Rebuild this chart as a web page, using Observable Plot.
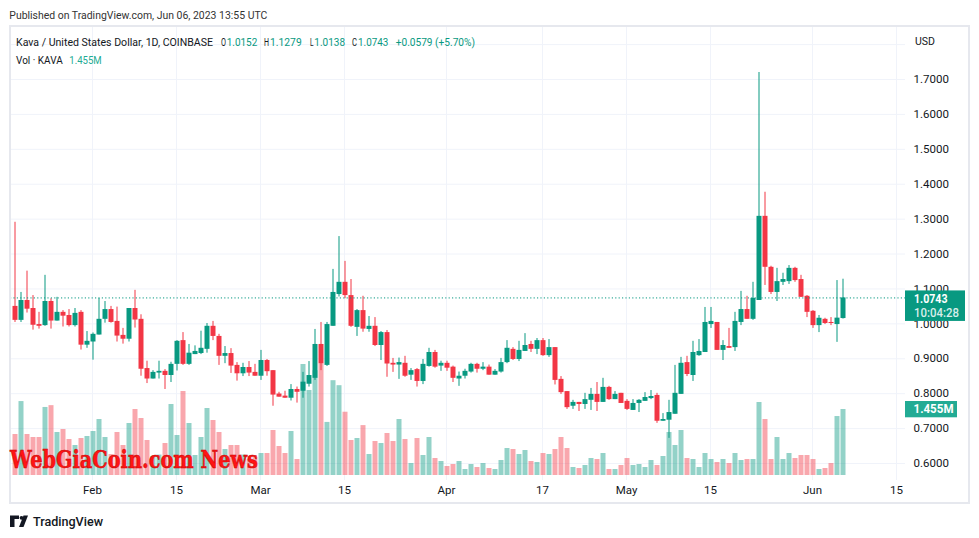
<!DOCTYPE html>
<html><head><meta charset="utf-8">
<script src="https://cdn.jsdelivr.net/npm/d3@7"></script>
<script src="https://cdn.jsdelivr.net/npm/@observablehq/plot@0.6"></script>
<style>
body{margin:0;background:#fff;}
#wrap{position:relative;width:979px;height:538px;overflow:hidden;background:#fff;font-family:Roboto, sans-serif;}
#wrap svg{position:absolute;left:0;top:0;}
</style></head><body><div id="wrap"></div>
<script>
// ---- data (KAVA/USD, 1D, Jan 19 – Jun 6 2023) ----
const firstDay = "2023-01-19";
const lastDay = "2023-06-06";
const open = [1.050,1.010,1.067,1.044,0.998,0.995,1.064,1.008,1.033,1.024,
0.995,1.033,0.939,0.948,0.968,1.013,1.041,1.007,0.967,0.956,
1.044,1.013,0.872,0.842,0.859,0.864,0.852,0.884,0.952,0.884,
0.912,0.915,0.927,0.993,0.964,0.907,0.915,0.881,0.857,0.875,
0.861,0.850,0.895,0.866,0.799,0.793,0.787,0.812,0.807,0.827,
0.844,0.941,0.881,0.993,1.084,1.119,1.081,0.990,1.038,0.984,
0.993,0.938,0.975,0.887,0.882,0.887,0.853,0.869,0.835,0.878,
0.918,0.879,0.887,0.876,0.842,0.850,0.862,0.884,0.870,0.876,
0.853,0.862,0.889,0.927,0.898,0.921,0.941,0.927,0.952,0.909,
0.932,0.841,0.806,0.764,0.775,0.769,0.781,0.798,0.775,0.818,
0.783,0.801,0.778,0.752,0.772,0.778,0.786,0.795,0.721,0.724,
0.741,0.798,0.889,0.852,0.909,0.918,0.998,1.004,0.924,0.935,
0.932,1.004,1.041,1.013,1.067,1.308,1.162,1.090,1.119,1.121,
1.159,1.127,1.079,1.036,0.995,1.013,1.004,0.998,1.0152];
const high = [1.291,1.090,1.151,1.081,1.033,1.139,1.072,1.076,1.038,1.041,
1.044,1.038,0.978,0.974,1.073,1.064,1.050,1.048,0.987,1.044,
1.096,1.026,0.893,0.866,0.893,0.869,0.890,0.952,0.975,0.941,
0.937,0.979,1.001,1.007,0.970,0.935,0.929,0.889,0.887,0.892,
0.884,0.924,0.898,0.866,0.804,0.807,0.826,0.819,0.861,0.892,
0.984,1.004,1.004,1.156,1.250,1.179,1.127,1.041,1.079,1.021,
1.018,0.978,0.981,0.901,0.902,0.907,0.872,0.872,0.898,0.930,
0.924,0.893,0.893,0.879,0.862,0.870,0.887,0.887,0.889,0.882,
0.869,0.901,0.952,0.932,0.950,0.972,0.950,0.958,0.958,0.955,
0.932,0.849,0.806,0.781,0.775,0.801,0.815,0.832,0.844,0.821,
0.806,0.801,0.783,0.783,0.783,0.803,0.809,0.801,0.743,0.781,
0.881,0.904,0.907,0.950,0.955,1.047,1.047,1.004,0.952,0.987,
1.033,1.093,1.079,1.119,1.720,1.377,1.165,1.159,1.145,1.167,
1.162,1.139,1.081,1.038,1.024,1.016,1.018,1.124,1.1279];
const low = [1.004,1.004,1.031,0.982,0.985,0.993,0.985,1.008,0.991,0.991,
0.991,0.925,0.930,0.896,0.968,1.002,1.002,0.948,0.942,0.948,
0.988,0.850,0.829,0.842,0.842,0.812,0.832,0.865,0.881,0.881,
0.912,0.912,0.916,0.952,0.881,0.886,0.858,0.836,0.849,0.849,
0.850,0.838,0.850,0.764,0.790,0.787,0.779,0.773,0.787,0.819,
0.838,0.866,0.878,0.993,1.077,1.072,0.990,0.964,0.976,0.976,
0.935,0.895,0.847,0.861,0.841,0.847,0.838,0.819,0.826,0.876,
0.873,0.864,0.864,0.832,0.821,0.842,0.859,0.859,0.866,0.853,
0.853,0.859,0.886,0.895,0.892,0.921,0.918,0.912,0.907,0.904,
0.825,0.798,0.755,0.755,0.749,0.755,0.752,0.749,0.775,0.781,
0.783,0.772,0.752,0.752,0.746,0.778,0.783,0.715,0.721,0.672,
0.741,0.798,0.849,0.835,0.907,0.918,0.987,0.924,0.895,0.930,
0.921,0.995,1.013,1.010,1.067,1.110,1.084,1.064,1.110,1.113,
1.119,1.076,1.018,0.987,0.975,0.998,0.995,0.947,1.0138];
const close = [1.010,1.067,1.042,0.996,0.993,1.064,1.008,1.033,1.022,0.995,
1.030,0.939,0.950,0.970,1.013,1.041,1.004,0.965,0.956,1.044,
1.011,0.870,0.842,0.861,0.864,0.852,0.884,0.950,0.884,0.916,
0.921,0.930,0.993,0.964,0.907,0.915,0.879,0.857,0.875,0.859,
0.850,0.895,0.863,0.796,0.790,0.787,0.812,0.804,0.833,0.852,
0.941,0.886,0.998,1.090,1.119,1.081,0.993,1.038,0.985,0.993,
0.938,0.975,0.885,0.882,0.889,0.850,0.866,0.835,0.884,0.918,
0.876,0.887,0.873,0.844,0.850,0.864,0.884,0.870,0.876,0.853,
0.864,0.889,0.930,0.898,0.924,0.938,0.927,0.952,0.909,0.932,
0.838,0.803,0.760,0.775,0.769,0.783,0.798,0.775,0.818,0.783,
0.798,0.772,0.755,0.772,0.781,0.789,0.792,0.721,0.726,0.746,
0.801,0.887,0.855,0.918,0.921,1.004,1.007,0.924,0.938,0.930,
1.007,1.041,1.013,1.073,1.308,1.162,1.090,1.121,1.127,1.159,
1.124,1.076,1.033,0.995,1.016,1.001,1.001,1.0164,1.0743];
// volume in millions of KAVA
const volume = [0.904,1.63,0.904,0.838,0.838,1.50,1.54,0.948,1.014,0.794,
0.661,0.816,0.860,0.970,1.235,0.838,0.463,0.948,0.661,1.146,
1.455,1.257,0.772,0.42,0.45,0.705,1.565,0.882,1.852,1.146,
0.441,0.838,1.477,1.213,0.948,0.573,0.661,0.661,0.45,0.35,
0.40,0.485,0.485,0.992,0.639,0.485,0.970,0.353,2.447,1.874,
2.31,2.47,1.17,2.09,1.98,1.395,0.772,0.816,1.10,0.463,
0.750,0.705,0.926,0.750,1.235,0.794,0.265,0.816,0.441,0.838,
0.375,0.309,0.198,0.243,0.309,0.132,0.243,0.176,0.265,0.154,
0.132,0.331,0.595,0.573,0.463,0.551,0.309,0.287,0.485,0.463,
0.573,0.838,0.595,0.176,0.154,0.220,0.375,0.353,0.485,0.132,
0.132,0.220,0.375,0.220,0.243,0.176,0.331,0.220,0.419,0.948,
0.661,0.992,0.375,0.353,0.176,0.485,0.353,0.287,0.353,0.265,
0.485,0.331,0.353,0.353,1.609,1.235,0.353,0.838,0.353,0.485,
0.375,0.441,0.441,0.353,0.132,0.154,0.265,1.30,1.455];
const xTickDates = ["2023-02-01","2023-02-15","2023-03-01","2023-03-15","2023-04-01","2023-04-17","2023-05-01","2023-05-15","2023-06-01","2023-06-15"];
const xTickLabels = ["Feb","15","Mar","15","Apr","17","May","15","Jun","15"];
const yTicks = [0.6,0.7,0.8,0.9,1.0,1.1,1.2,1.3,1.4,1.5,1.6,1.7];
const yGrid = [0.6,0.7,0.8,0.9,1.0,1.1,1.2,1.3,1.4,1.5,1.6,1.7,1.8];

// ---- build ----
const GREEN = "#089981", RED = "#f23645", GRID = "#f0f3fa", TXT = "#131722";
const parse = d3.utcParse("%Y-%m-%d");
const dates = d3.utcDay.range(parse(firstDay), d3.utcDay.offset(parse(lastDay), 1));
const candles = dates.map((d, i) => ({date: d, o: open[i], h: high[i], l: low[i], c: close[i], v: volume[i], up: close[i] >= open[i]}));
const upC = candles.filter(d => d.up), dnC = candles.filter(d => !d.up);
const tickDates = xTickDates.map(parse);
const labelMap = new Map(tickDates.map((d, i) => [+d, xTickLabels[i]]));

const xOpt = {type: "utc", domain: [parse("2023-01-18"), parse("2023-06-16")], range: [8, 902]};
const base = {width: 979, height: 538, marginLeft: 10, marginRight: 74, marginTop: 27, marginBottom: 58};
const priceY = {domain: [0.6, 1.7], range: [463, 79]};
const wrap = document.getElementById("wrap");

// layer A: grid + axes
const plotA = Plot.plot({...base,
  style: {background: "transparent", fontFamily: "Roboto, sans-serif", fontSize: "11.5px", color: TXT},
  x: {...xOpt, ticks: tickDates, tickFormat: d => labelMap.get(+d), tickSize: 0, tickPadding: 5, label: null},
  y: {...priceY, ticks: yTicks, tickFormat: d3.format(".4f"), axis: "right", tickSize: 0, tickPadding: 8, label: null},
  marks: [
    Plot.ruleY(yGrid, {stroke: GRID, strokeWidth: 1}),
    Plot.ruleX(tickDates, {stroke: GRID, strokeWidth: 1})
  ]
});
wrap.appendChild(plotA);

// layer B: volume
const plotB = Plot.plot({...base,
  style: {background: "transparent"},
  x: {...xOpt, axis: null},
  y: {domain: [0, 1.455], range: [475, 409], axis: null},
  marks: [
    Plot.ruleX(upC, {x: "date", y1: 0, y2: "v", stroke: GREEN, strokeOpacity: 0.44, strokeWidth: 5, dx: 0.5}),
    Plot.ruleX(dnC, {x: "date", y1: 0, y2: "v", stroke: RED, strokeOpacity: 0.44, strokeWidth: 5, dx: 0.5})
  ]
});
wrap.appendChild(plotB);

// layer C: candles
const last = candles[candles.length - 1];
const prev = candles[candles.length - 2];
const plotC = Plot.plot({...base,
  style: {background: "transparent"},
  x: {...xOpt, axis: null},
  y: {...priceY, axis: null},
  marks: [
    Plot.ruleX(upC, {x: "date", y1: "l", y2: "h", stroke: GREEN, strokeWidth: 1, dx: 0.5}),
    Plot.ruleX(dnC, {x: "date", y1: "l", y2: "h", stroke: RED, strokeWidth: 1, dx: 0.5}),
    Plot.ruleX(upC, {x: "date", y1: "o", y2: "c", stroke: GREEN, strokeWidth: 5, dx: 0.5}),
    Plot.ruleX(dnC, {x: "date", y1: "o", y2: "c", stroke: RED, strokeWidth: 5, dx: 0.5}),
    Plot.ruleY([last.c], {stroke: GREEN, strokeWidth: 1, strokeDasharray: "1.2,2.2"})
  ]
});
wrap.appendChild(plotC);

// price & volume labels on the axis, positioned through the scales
const sc = d3.select(plotC);
const cy = plotC.scale("y").apply(last.c);
const lab = (x, y, s, o) => sc.append("text").attr("x", x).attr("y", y).attr("text-anchor", "start")
  .attr("fill", "#fff").attr("fill-opacity", o.op || 1).attr("font-family", "Roboto, sans-serif")
  .attr("font-size", 12).attr("font-weight", o.w).attr("textLength", o.len).attr("lengthAdjust", "spacingAndGlyphs").text(s);
sc.append("rect").attr("x", 905).attr("y", cy - 7).attr("width", 60).attr("height", 30.5).attr("fill", GREEN);
lab(914, cy + 5.4, d3.format(".4f")(last.c), {w: 700, len: 33.5});
lab(914, cy + 20, "10:04:28", {w: 500, len: 45, op: 0.85});
const vy = plotB.scale("y").apply(last.v);
sc.append("rect").attr("x", 905).attr("y", vy - 8).attr("width", 52).attr("height", 16.3).attr("fill", "#22ab94");
lab(913.5, vy + 4.3, last.v.toFixed(3) + "M", {w: 700, len: 40});

// overlay: frame, header, legend, watermark, footer
const ov = d3.select(wrap).append("svg").attr("width", 979).attr("height", 538).style("font-family", "Roboto, sans-serif");
ov.append("rect").attr("x", 10).attr("y", 26).attr("width", 959).attr("height", 477)
  .attr("fill", "none").attr("stroke", "#e6e8ee").attr("stroke-width", 2);
function t(x, y, s, o = {}) {
  const e = ov.append("text").attr("x", x).attr("y", y).text(s)
    .attr("font-size", o.size || 11.5).attr("fill", o.fill || TXT).attr("font-weight", o.weight || 400);
  if (o.len) e.attr("textLength", o.len).attr("lengthAdjust", "spacingAndGlyphs");
  if (o.family) e.attr("font-family", o.family);
  return e;
}
// a legend item: dark label + coloured value in one text element
function item(x, y, letter, llen, gap, value, vlen, fill) {
  const e = ov.append("text").attr("y", y).attr("font-size", 11.5);
  e.append("tspan").attr("x", x).attr("fill", TXT).attr("textLength", llen).attr("lengthAdjust", "spacingAndGlyphs").text(letter);
  e.append("tspan").attr("x", x + llen + gap).attr("fill", fill).attr("textLength", vlen).attr("lengthAdjust", "spacingAndGlyphs").text(value);
  return e;
}
t(9.3, 19, "Published on TradingView.com, Jun 06, 2023 13:55 UTC", {size: 11.5, fill: "#333", len: 258});
const f4 = d3.format(".4f");
t(16, 46, "Kava / United States Dollar, 1D, COINBASE", {len: 197});
item(221, 46, "O", 5, 0.7, f4(last.o), 30.6, GREEN);
item(264, 46, "H", 5, 1, f4(last.h), 31.7, GREEN);
item(310, 46, "L", 3.5, 0.8, f4(last.l), 30.7, GREEN);
item(352, 46, "C", 5, 1, f4(last.c), 30.3, GREEN);
const chg = last.c - prev.c;
t(395.7, 46, d3.format("+.4f")(chg) + " (" + d3.format("+.2f")(chg / prev.c * 100) + "%)", {fill: GREEN, len: 79.3});
item(16, 64, "Vol · KAVA", 46.7, 6.6, last.v.toFixed(3) + "M", 32.4, "#22ab94");
t(915, 45, "USD", {len: 20});
// watermark
t(10, 467.5, "WebGiaCoin.com News", {size: 23.5, weight: 700, fill: "#ff1414", family: "'DejaVu Serif', serif", len: 248})
  .attr("stroke", "#c40000").attr("stroke-width", 0.5);
// footer logo
ov.append("path").attr("d", "M10,515.5h9v3.5h-4.5v8h-4.5z").attr("fill", TXT);
ov.append("circle").attr("cx", 21.5).attr("cy", 517.8).attr("r", 1.9).attr("fill", TXT);
ov.append("path").attr("d", "M23.5,515.5h4.5l-4.5,11.5h-4.5z").attr("fill", TXT);
t(33, 525.5, "TradingView", {size: 13, weight: 500, len: 70});
</script></body></html>
